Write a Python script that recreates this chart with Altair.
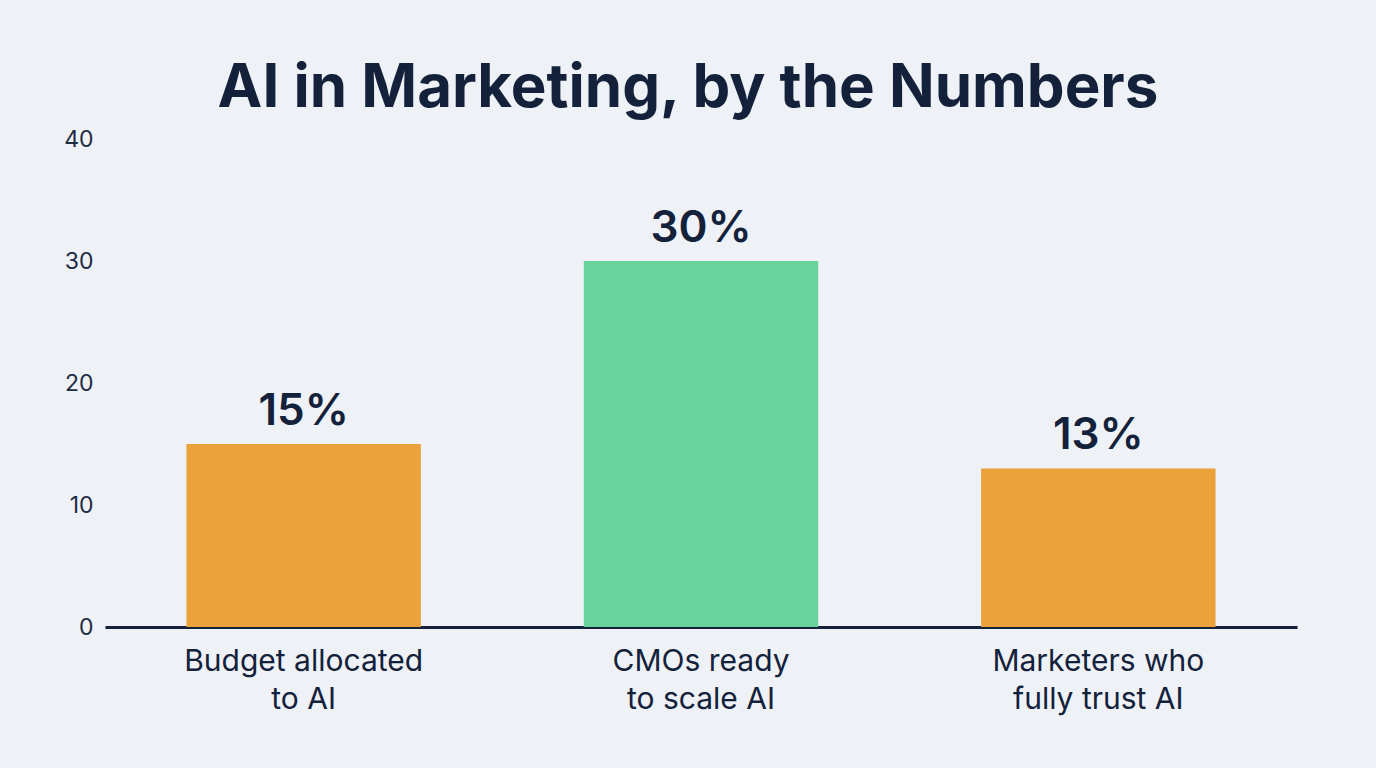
import altair as alt
import pandas as pd

categories = ["Budget allocated|to AI", "CMOs ready|to scale AI", "Marketers who|fully trust AI"]
values = [15, 30, 13]
labels = ["15%", "30%", "13%"]
colors = ["#EBA23B", "#69D39C", "#EBA23B"]

df = pd.DataFrame({"cat": categories, "val": values, "label": labels, "color": colors})

TEXT = "#13213B"

x = alt.X("cat:N", sort=categories, title=None,
          scale=alt.Scale(paddingInner=0.41, paddingOuter=0.205),
          axis=alt.Axis(labelExpr="split(datum.value, '|')", labelAngle=0,
                        labelFontSize=30, labelColor=TEXT, labelFont="Inter",
                        labelLineHeight=38, labelPadding=19, ticks=False, labelLimit=400,
                        domainColor=TEXT, domainWidth=3))
y = alt.Y("val:Q", title=None,
          scale=alt.Scale(domain=[0, 40], nice=False),
          axis=alt.Axis(values=[0, 10, 20, 30, 40], grid=False, domain=False, ticks=False,
                        labelFontSize=23, labelColor="#1E2B44", labelFont="Inter",
                        labelPadding=12))

bars = alt.Chart(df).mark_bar().encode(
    x=x, y=y, color=alt.Color("color:N", scale=None)
)
text = alt.Chart(df).mark_text(
    baseline="alphabetic", dy=-19, fontSize=44, fontWeight=600, font="Inter", color=TEXT
).encode(x=alt.X("cat:N", sort=categories), y="val:Q", text="label:N")

chart = alt.layer(bars, text).properties(
    width=1192, height=488,
    background="#EEF1F6",
    padding={"left": 105, "top": 139, "right": 79, "bottom": 141},
    autosize=alt.AutoSizeParams(type="none"),
    title=alt.TitleParams("AI in Marketing, by the Numbers", fontSize=60, font="Inter",
                          fontWeight="bold", color=TEXT, anchor="middle", dx=-13,
                          offset=29, dy=68, baseline="alphabetic"),
).configure_view(stroke=None)

chart.save("out.html", embed_options={"renderer": "svg", "actions": False})
